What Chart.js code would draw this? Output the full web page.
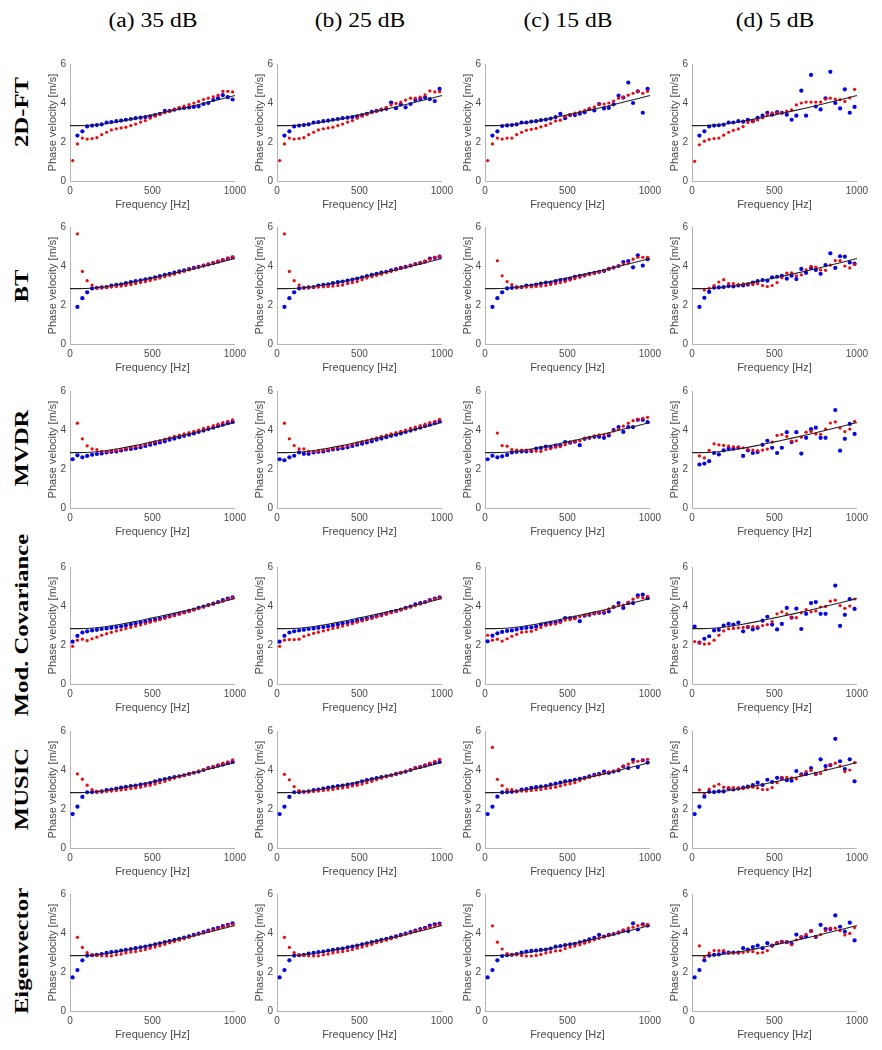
<!DOCTYPE html>
<html>
<head>
<meta charset="utf-8">
<script src="https://cdn.jsdelivr.net/npm/chart.js@4.4.0/dist/chart.umd.min.js"></script>
<style>
  body { margin: 0; background: #fff; }
  #page { position: relative; width: 882px; height: 1050px; overflow: hidden; }
  canvas { position: absolute; }
  .head { position: absolute; top: 9px; width: 160px; margin-left: -80px; text-align: center;
          font-family: "Liberation Serif", serif; font-size: 20px; color: #000; transform: scaleX(1.18); }
  .rowlab { position: absolute; left: 22px; width: 220px; margin-left: -110px; height: 24px; margin-top: -12px;
            text-align: center; line-height: 24px; font-family: "Liberation Serif", serif; font-weight: bold;
            font-size: 19px; color: #000; transform: rotate(-90deg) scaleX(1.3); }
</style>
</head>
<body>
<div id="page"></div>
<script>
// frequency bins of the estimates (Hz)
const freqHz = [16, 45, 75, 104, 134, 163, 192, 222, 251, 281, 310, 339, 369, 398, 428, 457, 486,
  516, 545, 575, 604, 633, 663, 692, 722, 751, 780, 810, 839, 869, 898, 927, 957, 986];

// theoretical dispersion curve (black line)
const curveHz = [0, 100, 200, 300, 400, 500, 600, 700, 800, 900, 1000];
const curveVel = [2.84, 2.85, 2.92, 3.05, 3.21, 3.39, 3.57, 3.76, 3.96, 4.17, 4.38];

const methods = ['2D-FT', 'BT', 'MVDR', 'Mod. Covariance', 'MUSIC', 'Eigenvector'];
const snrLabels = ['(a) 35 dB', '(b) 25 dB', '(c) 15 dB', '(d) 5 dB'];

// 2D-FT
const ft35Blue = [null, 2.33, 2.55, 2.8, 2.84, 2.87, 2.9, 3.0, 3.02, 3.07, 3.1, 3.14, 3.18, 3.22, 3.25, 3.28, 3.32, 3.38, 3.45, 3.6, 3.6, 3.66, 3.72, 3.75, 3.77, 3.8, 3.83, 3.95, 4.0, 4.15, 4.25, 4.4, 4.3, 4.18];
const ft35Red = [1.05, 1.9, 2.2, 2.15, 2.18, 2.22, 2.38, 2.5, 2.62, 2.68, 2.72, 2.76, 2.84, 2.92, 3.02, 3.1, 3.22, 3.32, 3.42, 3.5, 3.58, 3.68, 3.76, 3.84, 3.92, 4.0, 4.08, 4.18, 4.25, 4.32, 4.4, 4.6, 4.6, 4.57];
const ft25Blue = [null, 2.33, 2.55, 2.8, 2.84, 2.87, 2.9, 3.0, 3.02, 3.07, 3.1, 3.14, 3.18, 3.22, 3.25, 3.28, 3.32, 3.38, 3.45, 3.55, 3.6, 3.66, 3.7, 4.02, 3.73, 3.92, 3.78, 3.95, 4.15, 4.2, 4.28, 4.2, 4.1, 4.72];
const ft25Red = [1.05, 1.9, 2.2, 2.15, 2.18, 2.22, 2.38, 2.5, 2.62, 2.68, 2.72, 2.76, 2.84, 2.92, 3.02, 3.1, 3.22, 3.32, 3.42, 3.5, 3.58, 3.68, 3.78, 3.9, 3.98, 4.05, 4.15, 4.25, 4.25, 4.3, 4.42, 4.62, 4.57, 4.58];
const ft15Blue = [null, 2.33, 2.55, 2.82, 2.85, 2.87, 2.9, 3.0, 3.0, 3.05, 3.07, 3.12, 3.15, 3.2, 3.28, 3.44, 3.22, 3.38, 3.38, 3.45, 3.52, 3.68, 3.62, 3.95, 3.72, 3.75, 3.93, 4.38, 4.28, 5.05, 4.0, 4.6, 3.5, 4.72];
const ft15Red = [1.05, 1.9, 2.2, 2.15, 2.2, 2.2, 2.38, 2.5, 2.6, 2.65, 2.7, 2.78, 2.85, 2.95, 3.08, 3.12, 3.3, 3.4, 3.48, 3.55, 3.62, 3.72, 3.8, 3.92, 3.95, 4.0, 4.1, 4.25, 4.3, 4.4, 4.5, 4.6, 4.5, 4.6];
const ft5Blue = [null, 2.33, 2.55, 2.8, 2.84, 2.86, 2.89, 3.0, 3.0, 3.07, 3.04, 3.13, 3.07, 3.24, 3.35, 3.5, 3.4, 3.53, 3.5, 3.4, 3.14, 3.35, 4.63, 3.35, 5.44, 3.82, 3.67, 4.24, 5.6, 4.0, 3.72, 4.7, 3.5, 3.8];
const ft5Red = [1.01, 1.86, 2.04, 2.13, 2.18, 2.2, 2.35, 2.5, 2.6, 2.67, 2.79, 3.0, 3.04, 3.13, 3.24, 3.4, 3.5, 3.5, 3.5, 3.58, 3.65, 3.9, 4.0, 4.05, 4.05, 4.05, 4.05, 4.2, 4.25, 4.2, 4.17, 4.08, 4.26, 4.7];

// BT
const bt35Blue = [null, 1.9, 2.35, 2.65, 2.85, 2.88, 2.9, 2.92, 3.0, 3.03, 3.06, 3.12, 3.17, 3.22, 3.27, 3.31, 3.36, 3.42, 3.48, 3.54, 3.6, 3.66, 3.72, 3.78, 3.84, 3.9, 3.96, 4.02, 4.08, 4.15, 4.22, 4.3, 4.38, 4.45];
const bt35Red = [null, 5.65, 3.72, 3.25, 3.02, 2.88, 2.88, 2.9, 2.92, 2.95, 2.97, 3.0, 3.05, 3.1, 3.15, 3.2, 3.26, 3.32, 3.38, 3.45, 3.52, 3.58, 3.66, 3.72, 3.8, 3.88, 3.95, 4.02, 4.1, 4.17, 4.25, 4.32, 4.4, 4.45];
const bt25Blue = [null, 1.9, 2.35, 2.65, 2.85, 2.88, 2.9, 2.92, 3.0, 3.03, 3.06, 3.12, 3.17, 3.2, 3.25, 3.3, 3.35, 3.42, 3.48, 3.54, 3.6, 3.66, 3.7, 3.78, 3.84, 3.9, 3.96, 4.02, 4.1, 4.15, 4.22, 4.38, 4.42, 4.48];
const bt25Red = [null, 5.65, 3.72, 3.25, 3.02, 2.88, 2.88, 2.9, 2.92, 2.93, 2.95, 2.97, 3.0, 3.02, 3.1, 3.15, 3.2, 3.3, 3.38, 3.45, 3.52, 3.58, 3.66, 3.72, 3.8, 3.88, 3.95, 4.02, 4.1, 4.17, 4.25, 4.35, 4.45, 4.5];
const bt15Blue = [null, 1.9, 2.35, 2.65, 2.85, 2.88, 2.9, 2.92, 3.0, 3.0, 3.05, 3.1, 3.15, 3.15, 3.22, 3.28, 3.3, 3.35, 3.45, 3.5, 3.52, 3.6, 3.65, 3.7, 3.75, 3.85, 3.92, 4.0, 4.2, 4.25, 3.93, 4.55, 4.02, 4.35];
const bt15Red = [null, null, 4.27, 3.5, 3.2, 3.05, 2.9, 2.9, 2.92, 2.93, 2.95, 2.97, 3.0, 3.05, 3.1, 3.15, 3.2, 3.28, 3.35, 3.42, 3.5, 3.56, 3.62, 3.7, 3.78, 3.85, 3.92, 4.0, 4.1, 4.15, 4.35, 4.45, 4.45, 4.45];
const bt5Blue = [null, 1.9, 2.37, 2.67, 2.89, 2.9, 2.92, 2.97, 2.95, 3.0, 3.0, 3.05, 3.15, 3.22, 3.28, 3.25, 3.42, 3.45, 3.5, 3.35, 3.5, 3.33, 3.85, 3.65, 3.9, 3.8, 3.6, 4.05, 4.65, 3.9, 4.5, 4.48, 4.18, 4.12];
const bt5Red = [null, null, 2.77, 2.85, 3.0, 3.18, 3.3, 3.1, 3.1, 3.05, 3.08, 3.08, 3.05, 3.1, 3.0, 2.95, 3.0, 3.15, 3.4, 3.63, 3.65, 3.5, 3.55, 3.8, 3.98, 3.95, 3.8, 3.78, 4.05, 4.28, 4.28, 4.0, 3.9, 4.08];

// MVDR
const mv35Blue = [2.5, 2.7, 2.6, 2.67, 2.73, 2.77, 2.8, 2.85, 2.88, 2.9, 2.95, 3.0, 3.03, 3.07, 3.12, 3.18, 3.25, 3.3, 3.36, 3.42, 3.5, 3.56, 3.63, 3.7, 3.76, 3.82, 3.9, 3.97, 4.05, 4.12, 4.2, 4.27, 4.35, 4.42];
const mv35Red = [null, 4.35, 3.55, 3.19, 3.03, 3.0, 2.9, 2.9, 2.92, 2.96, 3.0, 3.05, 3.1, 3.15, 3.2, 3.27, 3.33, 3.4, 3.46, 3.53, 3.6, 3.67, 3.74, 3.8, 3.87, 3.93, 4.0, 4.08, 4.15, 4.22, 4.3, 4.38, 4.45, 4.52];
const mv25Blue = [2.5, 2.45, 2.6, 2.68, 2.85, 2.78, 2.78, 2.85, 2.88, 2.9, 2.95, 3.0, 3.03, 3.07, 3.12, 3.18, 3.25, 3.3, 3.36, 3.42, 3.5, 3.56, 3.63, 3.7, 3.76, 3.82, 3.9, 3.97, 4.05, 4.12, 4.2, 4.27, 4.35, 4.45];
const mv25Red = [null, 4.35, 3.55, 3.2, 3.03, 3.03, 2.9, 2.9, 2.92, 2.96, 3.0, 3.05, 3.1, 3.15, 3.2, 3.27, 3.33, 3.4, 3.46, 3.53, 3.6, 3.67, 3.74, 3.8, 3.87, 3.93, 4.0, 4.08, 4.15, 4.22, 4.3, 4.38, 4.45, 4.55];
const mv15Blue = [2.5, 2.68, 2.6, 2.65, 2.72, 2.85, 2.88, 2.9, 2.9, 2.92, 3.05, 3.08, 3.15, 3.1, 3.2, 3.2, 3.38, 3.35, 3.4, 3.22, 3.55, 3.6, 3.65, 3.65, 3.6, 3.72, 4.0, 4.15, 3.9, 4.15, 4.15, 4.52, 4.52, 4.4];
const mv15Red = [null, null, 3.84, 3.2, 3.17, 3.0, 2.97, 2.97, 2.97, 2.95, 2.92, 2.9, 3.0, 3.05, 3.12, 3.15, 3.25, 3.38, 3.4, 3.45, 3.58, 3.62, 3.7, 3.75, 3.75, 3.82, 3.95, 4.05, 4.2, 4.35, 4.48, 4.55, 4.6, 4.65];
const mv5Blue = [null, 2.23, 2.28, 2.4, 2.82, 2.75, 2.96, 3.04, 3.04, 3.09, 2.67, 2.96, 2.82, 2.87, 3.24, 3.45, 3.09, 2.82, 3.09, 3.89, 3.38, 3.89, 2.79, 3.6, 4.04, 4.12, 3.6, 3.6, null, 5.02, 2.94, 3.55, 4.31, 3.8];
const mv5Red = [null, 2.67, 2.57, 2.96, 3.29, 3.24, 3.21, 3.18, 3.14, 3.13, 3.09, 3.0, 2.97, 2.94, 2.97, 3.02, 3.38, 3.72, 3.77, 3.67, 3.43, 3.45, 3.63, 3.89, 3.92, 3.8, 3.78, 4.05, 4.36, 4.42, 4.1, 3.92, 4.05, 4.44];

// Mod. Covariance
const mc35Blue = [2.17, 2.47, 2.64, 2.7, 2.75, 2.78, 2.82, 2.85, 2.88, 2.92, 2.96, 3.0, 3.05, 3.1, 3.15, 3.2, 3.25, 3.3, 3.36, 3.42, 3.48, 3.55, 3.61, 3.68, 3.75, 3.82, 3.9, 3.97, 4.05, 4.12, 4.2, 4.3, 4.38, 4.45];
const mc35Red = [1.93, 2.25, 2.3, 2.22, 2.32, 2.4, 2.5, 2.58, 2.65, 2.72, 2.78, 2.85, 2.9, 2.97, 3.03, 3.1, 3.17, 3.23, 3.3, 3.37, 3.44, 3.5, 3.58, 3.65, 3.72, 3.8, 3.88, 3.95, 4.02, 4.1, 4.18, 4.25, 4.33, 4.42];
const mc25Blue = [2.17, 2.47, 2.64, 2.7, 2.75, 2.78, 2.82, 2.85, 2.88, 2.92, 2.96, 3.0, 3.05, 3.1, 3.15, 3.2, 3.25, 3.3, 3.36, 3.42, 3.48, 3.55, 3.61, 3.7, 3.75, 3.82, 3.9, 3.97, 4.08, 4.15, 4.2, 4.3, 4.38, 4.45];
const mc25Red = [1.93, 2.25, 2.28, 2.28, 2.3, 2.45, 2.52, 2.6, 2.66, 2.72, 2.78, 2.85, 2.9, 2.97, 3.03, 3.1, 3.17, 3.23, 3.3, 3.37, 3.44, 3.5, 3.58, 3.65, 3.72, 3.8, 3.88, 3.95, 4.02, 4.1, 4.18, 4.28, 4.35, 4.42];
const mc15Blue = [2.19, 2.48, 2.6, 2.67, 2.72, 2.75, 2.8, 2.85, 2.88, 2.9, 2.95, 3.05, 3.08, 3.13, 3.15, 3.22, 3.38, 3.38, 3.4, 3.22, 3.5, 3.55, 3.62, 3.65, 3.65, 3.72, 3.95, 4.15, 3.9, 4.15, 4.15, 4.55, 4.58, 4.4];
const mc15Red = [2.5, 2.25, 2.3, 2.2, 2.32, 2.45, 2.55, 2.65, 2.68, 2.7, 2.8, 2.9, 3.0, 3.05, 3.08, 3.15, 3.28, 3.3, 3.35, 3.45, 3.52, 3.58, 3.62, 3.68, 3.72, 3.85, 3.95, 4.05, 4.05, 4.2, 4.35, 4.45, 4.42, 4.5];
const mc5Blue = [2.95, 2.12, 2.32, 2.45, 2.75, 2.78, 3.0, 3.08, 3.05, 3.15, 2.7, 2.92, 2.8, 2.88, 3.25, 3.45, 3.05, 2.8, 3.08, 3.9, 3.4, 3.87, 2.82, 3.6, 4.15, 4.2, 3.6, 3.6, null, 5.05, 2.98, 3.55, 4.35, 3.85];
const mc5Red = [2.18, 2.12, 2.05, 2.07, 2.25, 2.5, 2.72, 2.83, 2.85, 2.88, 2.9, 2.95, 2.95, 2.95, 3.0, 3.05, 3.2, 3.6, 3.7, 3.6, 3.4, 3.4, 3.65, 3.82, 3.7, 3.75, 3.95, 3.98, 4.25, 4.3, 4.02, 3.88, 4.0, 4.36];

// MUSIC
const mu35Blue = [1.74, 2.12, 2.62, 2.86, 2.87, 2.88, 2.9, 2.97, 3.0, 3.05, 3.1, 3.13, 3.18, 3.2, 3.25, 3.28, 3.33, 3.42, 3.48, 3.53, 3.58, 3.63, 3.68, 3.73, 3.8, 3.86, 3.92, 4.0, 4.1, 4.15, 4.22, 4.28, 4.35, 4.42];
const mu35Red = [null, 3.8, 3.53, 3.22, 3.0, 2.9, 2.88, 2.9, 2.92, 2.95, 2.98, 3.0, 3.05, 3.08, 3.12, 3.18, 3.22, 3.28, 3.35, 3.42, 3.5, 3.58, 3.65, 3.72, 3.8, 3.87, 3.95, 4.02, 4.1, 4.18, 4.27, 4.35, 4.42, 4.52];
const mu25Blue = [1.74, 2.12, 2.62, 2.86, 2.87, 2.88, 2.9, 2.97, 3.0, 3.05, 3.1, 3.13, 3.18, 3.2, 3.25, 3.28, 3.33, 3.42, 3.48, 3.53, 3.58, 3.63, 3.68, 3.73, 3.8, 3.86, 3.92, 4.0, 4.1, 4.15, 4.22, 4.3, 4.38, 4.42];
const mu25Red = [null, 3.78, 3.5, 3.15, 2.95, 2.88, 2.88, 2.9, 2.92, 2.95, 2.98, 3.0, 3.05, 3.08, 3.12, 3.18, 3.22, 3.28, 3.35, 3.42, 3.5, 3.58, 3.65, 3.72, 3.8, 3.87, 3.95, 4.02, 4.1, 4.18, 4.27, 4.35, 4.45, 4.55];
const mu15Blue = [1.74, 2.12, 2.63, 2.85, 2.87, 2.88, 2.9, 3.0, 3.02, 3.08, 3.12, 3.15, 3.18, 3.25, 3.3, 3.35, 3.42, 3.45, 3.5, 3.55, 3.6, 3.68, 3.75, 3.8, 3.92, 3.85, 3.92, 3.98, 4.18, 4.1, 4.52, 4.15, 4.5, 4.38];
const mu15Red = [null, 5.16, 3.52, 3.2, 3.0, 3.0, 2.9, 2.92, 2.92, 2.95, 2.98, 3.0, 3.05, 3.08, 3.12, 3.18, 3.25, 3.3, 3.35, 3.45, 3.55, 3.62, 3.7, 3.75, 3.82, 3.9, 3.95, 4.05, 4.2, 4.3, 4.4, 4.45, 4.5, 4.55];
const mu5Blue = [1.74, 2.12, 2.63, 2.88, 2.87, 2.9, 2.9, 3.05, 3.0, 3.05, 3.1, 3.15, 3.23, 3.35, 3.23, 3.5, 3.38, 3.6, 3.58, 3.48, 3.45, 3.95, 3.78, 3.8, 4.1, 3.8, 4.55, 4.2, 4.25, 5.6, 4.45, 4.05, 4.55, 3.42];
const mu5Red = [null, 2.98, 2.8, 3.02, 3.17, 3.27, 3.12, 3.1, 3.1, 3.08, 3.05, 3.1, 3.12, 3.08, 3.0, 3.0, 3.1, 3.35, 3.6, 3.62, 3.6, 3.55, 3.75, 3.92, 3.98, 3.8, 3.82, 4.02, 4.25, 4.35, 4.2, 3.92, 4.0, 4.38];

// Eigenvector
const ev35Blue = [1.72, 2.1, 2.6, 2.84, 2.86, 2.88, 2.92, 2.98, 3.02, 3.05, 3.1, 3.13, 3.18, 3.22, 3.27, 3.3, 3.35, 3.42, 3.47, 3.53, 3.58, 3.65, 3.7, 3.76, 3.83, 3.9, 3.97, 4.05, 4.12, 4.2, 4.27, 4.35, 4.42, 4.5];
const ev35Red = [null, 3.78, 3.26, 3.0, 2.88, 2.85, 2.83, 2.82, 2.83, 2.88, 2.92, 2.98, 3.02, 3.05, 3.1, 3.15, 3.22, 3.28, 3.35, 3.42, 3.5, 3.56, 3.63, 3.7, 3.78, 3.86, 3.93, 4.0, 4.08, 4.15, 4.22, 4.3, 4.38, 4.45];
const ev25Blue = [1.72, 2.1, 2.6, 2.84, 2.86, 2.88, 2.95, 2.98, 3.02, 3.05, 3.1, 3.13, 3.18, 3.2, 3.27, 3.3, 3.35, 3.42, 3.47, 3.53, 3.58, 3.65, 3.7, 3.76, 3.83, 3.9, 3.97, 4.05, 4.12, 4.2, 4.27, 4.38, 4.45, 4.48];
const ev25Red = [null, 3.78, 3.26, 3.0, 2.88, 2.85, 2.83, 2.82, 2.83, 2.88, 2.92, 2.98, 3.02, 3.05, 3.1, 3.15, 3.22, 3.28, 3.35, 3.42, 3.5, 3.56, 3.63, 3.7, 3.78, 3.86, 3.93, 4.0, 4.08, 4.15, 4.22, 4.3, 4.38, 4.45];
const ev15Blue = [1.72, 2.1, 2.6, 2.82, 2.86, 2.88, 2.92, 3.0, 3.05, 3.08, 3.1, 3.13, 3.15, 3.2, 3.3, 3.33, 3.38, 3.42, 3.45, 3.52, 3.58, 3.68, 3.75, 3.9, 3.82, 3.9, 3.95, 4.02, 4.12, 4.1, 4.5, 4.18, 4.45, 4.38];
const ev15Red = [null, 4.37, 3.53, 3.18, 2.95, 2.88, 2.88, 2.85, 2.82, 2.82, 2.85, 2.9, 2.98, 3.02, 3.08, 3.1, 3.2, 3.28, 3.33, 3.4, 3.48, 3.55, 3.65, 3.72, 3.8, 3.88, 3.95, 4.05, 4.15, 4.25, 4.3, 4.38, 4.4, 4.45];
const ev5Blue = [1.72, 2.1, 2.6, 2.84, 2.88, 2.9, 3.0, 3.0, 3.0, 3.0, 3.22, 3.15, 3.28, 3.36, 3.22, 3.48, 3.35, 3.48, 3.55, 3.53, 3.45, 3.92, 3.78, 3.82, 4.1, 3.8, 4.42, 4.2, 4.2, 4.9, 4.32, 4.07, 4.53, 3.62];
const ev5Red = [null, 3.34, 2.77, 2.97, 3.1, 3.1, 3.1, 2.97, 2.97, 2.97, 3.0, 3.05, 3.05, 2.97, 3.0, 3.1, 3.34, 3.48, 3.56, 3.53, 3.4, 3.65, 3.82, 3.93, 4.08, 3.82, 3.92, 4.12, 4.25, 4.25, 4.12, 3.9, 3.98, 4.28];

const panelData = [
  [[ft35Blue, ft35Red], [ft25Blue, ft25Red], [ft15Blue, ft15Red], [ft5Blue, ft5Red]],
  [[bt35Blue, bt35Red], [bt25Blue, bt25Red], [bt15Blue, bt15Red], [bt5Blue, bt5Red]],
  [[mv35Blue, mv35Red], [mv25Blue, mv25Red], [mv15Blue, mv15Red], [mv5Blue, mv5Red]],
  [[mc35Blue, mc35Red], [mc25Blue, mc25Red], [mc15Blue, mc15Red], [mc5Blue, mc5Red]],
  [[mu35Blue, mu35Red], [mu25Blue, mu25Red], [mu15Blue, mu15Red], [mu5Blue, mu5Red]],
  [[ev35Blue, ev35Red], [ev25Blue, ev25Red], [ev15Blue, ev15Red], [ev5Blue, ev5Red]]
];

// layout (pixels): left edge of each plot area, top of each plot area
const colX = [70, 277, 485, 692];
const rowTop = [62, 225, 389, 565, 729, 892];
const rowLabelY = [112, 286, 448, 625, 789, 951];
const plotW = 166, plotH = 119;
const padL = 24, padT = 8, padR = 14, padB = 31;

const page = document.getElementById('page');

snrLabels.forEach((t, c) => {
  const d = document.createElement('div');
  d.className = 'head';
  d.style.left = (colX[c] + plotW / 2) + 'px';
  d.textContent = t;
  page.appendChild(d);
});
methods.forEach((t, r) => {
  const d = document.createElement('div');
  d.className = 'rowlab';
  d.style.top = rowLabelY[r] + 'px';
  d.textContent = t;
  page.appendChild(d);
});

const toPoints = vals => {
  const pts = [];
  vals.forEach((v, i) => { if (v !== null) pts.push({ x: freqHz[i], y: v }); });
  return pts;
};
const curvePoints = curveHz.map((f, i) => ({ x: f, y: curveVel[i] }));

const tickFont = { family: 'Liberation Sans, Arial, sans-serif', size: 10 };
const titleFont = { family: 'Liberation Sans, Arial, sans-serif', size: 11 };
const axisGray = '#4a4a4a';

function makePanel(r, c) {
  const cv = document.createElement('canvas');
  const w = padL + plotW + padR, h = padT + plotH + padB;
  cv.width = w; cv.height = h;
  cv.style.left = (colX[c] - padL) + 'px';
  cv.style.top = (rowTop[r] - padT) + 'px';
  page.appendChild(cv);
  const [blue, red] = panelData[r][c];
  new Chart(cv, {
    type: 'scatter',
    data: {
      datasets: [
        { data: curvePoints, showLine: true, borderColor: '#222', borderWidth: 1.1, pointRadius: 0,
          cubicInterpolationMode: 'monotone', order: 0 },
        { data: toPoints(red), backgroundColor: '#ff0000', borderWidth: 0, pointRadius: 1.6, order: 1 },
        { data: toPoints(blue), backgroundColor: '#0000ff', borderWidth: 0, pointRadius: 2.1, order: 2 }
      ]
    },
    options: {
      responsive: false,
      animation: false,
      events: [],
      layout: { padding: { left: 0, top: padT, right: padR, bottom: 0 } },
      plugins: { legend: { display: false }, tooltip: { enabled: false } },
      scales: {
        x: {
          type: 'linear', min: 0, max: 1000,
          grid: { display: false, drawTicks: false },
          border: { color: '#b4b4b4', width: 1 },
          ticks: { stepSize: 500, font: tickFont, color: axisGray, padding: 4, maxRotation: 0,
                   callback: v => String(v) },
          title: { display: true, text: 'Frequency [Hz]', font: titleFont, color: axisGray, padding: 0 },
          afterFit: s => { s.height = padB; }
        },
        y: {
          type: 'linear', min: 0, max: 6,
          grid: { display: false, drawTicks: false },
          border: { color: '#b4b4b4', width: 1 },
          ticks: { stepSize: 2, font: tickFont, color: axisGray, padding: 4, callback: v => String(v) },
          title: { display: true, text: 'Phase velocity [m/s]', font: titleFont, color: axisGray, padding: 0 },
          afterFit: s => { s.width = padL; }
        }
      }
    }
  });
}

for (let r = 0; r < 6; r++) {
  for (let c = 0; c < 4; c++) makePanel(r, c);
}
</script>
</body>
</html>
